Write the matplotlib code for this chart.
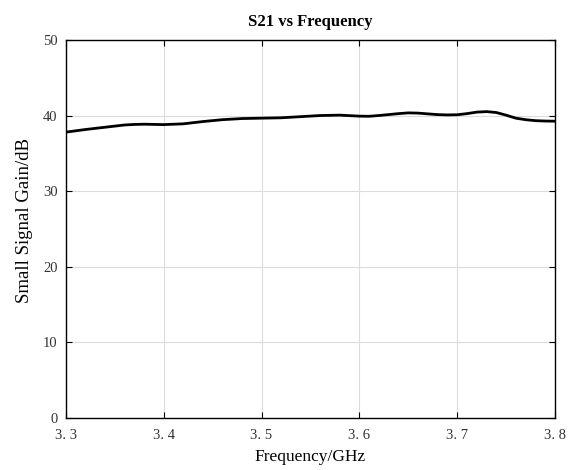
import matplotlib
matplotlib.use("Agg")
import matplotlib.pyplot as plt
import numpy as np

# S21 gain
freq_ghz = [3.30, 3.32, 3.34, 3.36, 3.37, 3.38, 3.40, 3.42, 3.44, 3.46, 3.48,
            3.50, 3.52, 3.54, 3.56, 3.58, 3.60, 3.61, 3.62, 3.64, 3.65, 3.66,
            3.68, 3.69, 3.70, 3.71, 3.72, 3.73, 3.74, 3.75, 3.76, 3.77,
            3.78, 3.79, 3.80]
gain_db = [37.8, 38.15, 38.45, 38.75, 38.82, 38.85, 38.8, 38.9, 39.2, 39.45, 39.6,
           39.65, 39.7, 39.85, 40.0, 40.05, 39.92, 39.9, 40.0, 40.25, 40.35, 40.32,
           40.12, 40.08, 40.1, 40.25, 40.45, 40.52, 40.4, 40.05, 39.65, 39.45,
           39.32, 39.27, 39.25]
x_ticks = [3.3, 3.4, 3.5, 3.6, 3.7, 3.8]
y_ticks = [0, 10, 20, 30, 40, 50]

plt.rcParams["font.family"] = ["Liberation Serif", "DejaVu Serif"]

fig = plt.figure(figsize=(5.68, 4.70), dpi=100)
ax = fig.add_axes([0.116, 0.111, 0.861, 0.804])

ax.plot(freq_ghz, gain_db, color="black", lw=2.0, solid_joinstyle="round")

ax.set_xlim(3.3, 3.8)
ax.set_ylim(0, 50)
ax.set_xticks(x_ticks)
ax.set_xticklabels([f"{v:.1f}".replace(".", ". ") for v in x_ticks], fontsize=10.5)
ax.set_yticks(y_ticks)
ax.set_yticklabels([str(v) for v in y_ticks], fontsize=10.5)
ax.tick_params(direction="in", top=True, right=True, length=4, width=0.8,
               colors="black")
ax.tick_params(axis="x", pad=8)
ax.tick_params(axis="y", pad=6)
ax.tick_params(labelcolor="#333333")
ax.grid(True, color="#dcdcdc", lw=0.8)
ax.set_axisbelow(True)
for sp in ax.spines.values():
    sp.set_linewidth(1.0)

ax.set_xlabel("Frequency/GHz", fontsize=12.5, labelpad=5)
ax.set_ylabel("Small Signal Gain/dB", fontsize=13.5)
ax.yaxis.set_label_coords(-0.068, 0.521)
ax.set_title("S21 vs Frequency", fontsize=12, fontweight="bold", pad=10)

fig.savefig("out.png", dpi=100)
